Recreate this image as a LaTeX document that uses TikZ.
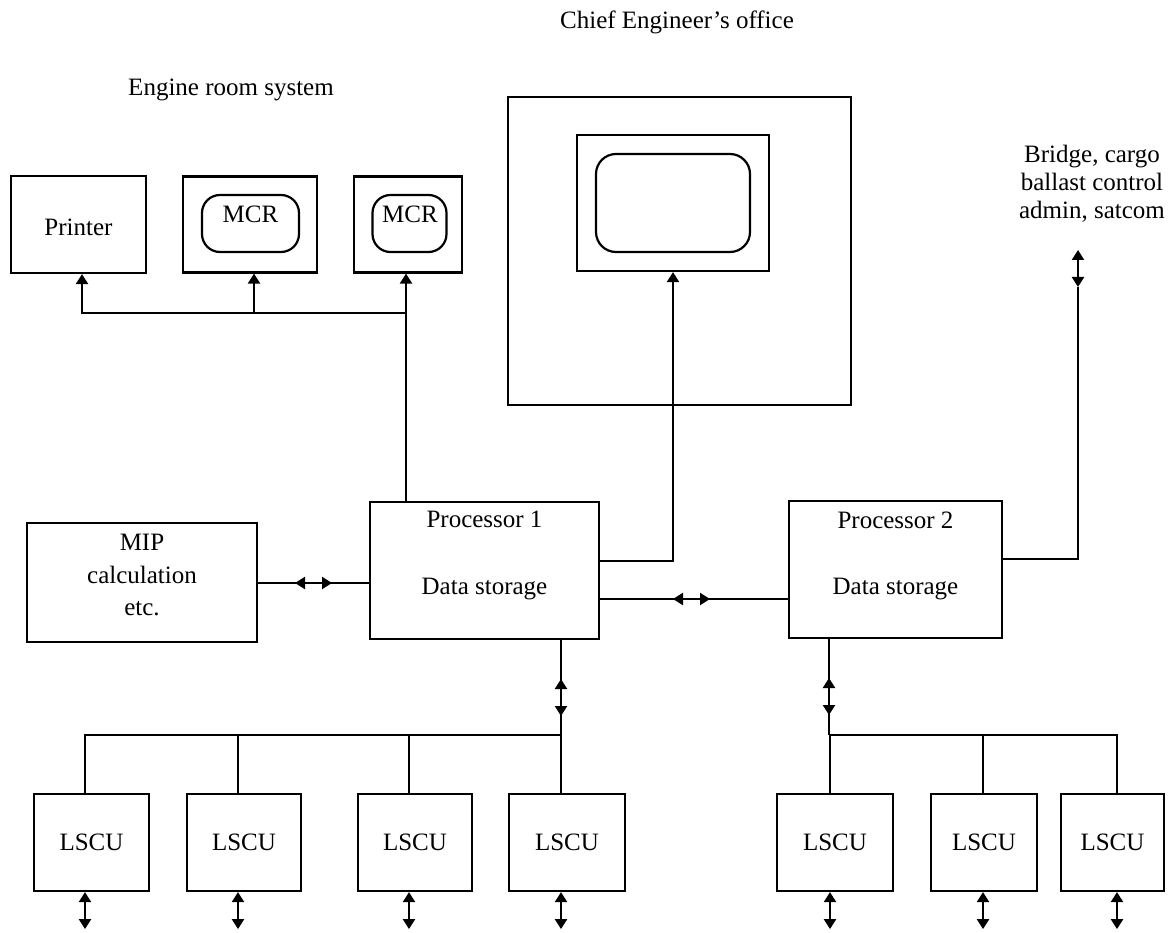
\documentclass[tikz,border=0pt]{standalone}
\usepackage{fontspec}
\setmainfont{Liberation Serif}
\usetikzlibrary{arrows.meta,calc}
\begin{document}
\begin{tikzpicture}[x=1pt,y=-1pt,
  every node/.style={font=\fontsize{25}{28}\selectfont},
  box/.style={draw, line width=2.2pt, inner sep=0pt},
  scr/.style={draw, line width=2.2pt, inner sep=0pt, rounded corners=18pt},
  lbl/.style={inner sep=0pt, align=center},
  wire/.style={line width=2.2pt},
  tip/.style={line width=2.2pt, -{Triangle[width=12pt,length=10pt]}},
  dtip/.style={line width=2.2pt, {Triangle[width=12pt,length=10pt]}-{Triangle[width=12pt,length=10pt]}},
  lscu/.style={box, minimum height=97pt}
]
\fill[white] (0,0) rectangle (1173,933);
\useasboundingbox (0,0) rectangle (1173,933);

% titles
\node[lbl] (chief) at (677,22) {Chief Engineer's office};
\node[lbl] (engroom) at (231,90) {Engine room system};
\node[lbl, font=\fontsize{25}{28}\selectfont] (bridge) at (1092,184) {Bridge, cargo\\ballast control\\admin, satcom};

% engine room
\node[box, minimum width=135pt, minimum height=97pt] (printer) at (78.5,224.5) {};
\node[lbl, anchor=base] (printert) at (78.5,236) {Printer};
\node[box, minimum width=134pt, minimum height=96pt] (mcr1) at (250,224.5) {};
\node[scr, minimum width=97pt, minimum height=57pt] (mcr1s) at (250.5,223.5) {};
\node[lbl, anchor=base] (mcr1t) at (250.5,223) {MCR};
\node[box, minimum width=108pt, minimum height=96pt] (mcr2) at (408,224.5) {};
\node[scr, minimum width=74pt, minimum height=57pt] (mcr2s) at (409.5,223.5) {};
\node[lbl, anchor=base] (mcr2t) at (410,223) {MCR};

% chief engineer's office
\node[box, minimum width=343pt, minimum height=308pt] (office) at (679.5,251) {};
\node[box, minimum width=192pt, minimum height=136pt] (mon) at (673,203) {};
\node[scr, minimum width=154pt, minimum height=98pt, rounded corners=20pt] (mons) at (673,203) {};

% processors
\node[box, minimum width=230pt, minimum height=119pt] (mip) at (142,582.5) {};
\node[lbl, font=\fontsize{25}{32.5}\selectfont] (mipt) at (142,575) {MIP\\calculation\\etc.};
\node[box, minimum width=229pt, minimum height=137pt] (p1) at (484.5,570.5) {};
\node[lbl, anchor=base] (p1a) at (484.5,527) {Processor 1};
\node[lbl, anchor=base] (p1b) at (484.5,594) {Data storage};
\node[box, minimum width=213pt, minimum height=137pt] (p2) at (895.5,569.5) {};
\node[lbl, anchor=base] (p2a) at (895.5,528) {Processor 2};
\node[lbl, anchor=base] (p2b) at (895.5,594) {Data storage};

% LSCUs
\node[lscu, minimum width=115pt] (l1) at (91.5,842.5) {LSCU};
\node[lscu, minimum width=114pt] (l2) at (244,842.5) {LSCU};
\node[lscu, minimum width=114pt] (l3) at (415,842.5) {LSCU};
\node[lscu, minimum width=116pt] (l4) at (567,842.5) {LSCU};
\node[lscu, minimum width=116pt] (l5) at (835,842.5) {LSCU};
\node[lscu, minimum width=106pt] (l6) at (984,842.5) {LSCU};
\node[lscu, minimum width=103pt] (l7) at (1112.5,842.5) {LSCU};

% engine room bus
\coordinate (ej) at (406,313);
\coordinate (m1) at (254,313);
\coordinate (pr) at (82,313);
\draw[wire] (ej |- p1.north) -- (ej);
\draw[tip] (ej) -- (ej |- mcr2.south);
\draw[tip] (m1) -- (m1 |- mcr1.south);
\draw[tip] (ej) -- (pr) -- (pr |- printer.south);

% office link
\draw[tip] ([yshift=9.5pt]p1.east) -| (mon.south);

% MIP link
\draw[wire] (mip.east |- 0,583) -- (p1.west |- 0,583);
\coordinate (ma) at (295,583);
\coordinate (mb) at (332,583);
\draw[dtip] (ma) -- (mb);

% P1 - P2 link
\coordinate (pp) at ([yshift=-28.5pt]p1.east);
\draw[wire] (pp) -- (pp -| p2.west);
\coordinate (pa) at (673,599);
\coordinate (pb) at (710,599);
\draw[dtip] (pa) -- (pb);

% bridge link
\coordinate (brm) at (1078,287);
\coordinate (br) at (1078,250);
\draw[wire] ([yshift=10.5pt]p2.east) -| (brm);
\draw[dtip] (brm) -- (br);

% left LSCU bus
\coordinate (lb) at (561,735);
\draw[wire] (p1.south -| lb) -- (lb);
\coordinate (lba) at (561,679);
\coordinate (lbb) at (561,716);
\draw[dtip] (lba) -- (lbb);
\coordinate (d1) at ($(l1.north)+(-6.5,0)$);
\coordinate (d2) at ($(l2.north)+(-6,0)$);
\coordinate (d3) at ($(l3.north)+(-6,0)$);
\coordinate (d4) at ($(l4.north)+(-6,0)$);
\draw[wire] (lb) -| (d1);
\draw[wire] (d2) -- (d2 |- lb);
\draw[wire] (d3) -- (d3 |- lb);
\draw[wire] (d4) -- (d4 |- lb);

% right LSCU bus
\coordinate (rb) at (829,735);
\draw[wire] (p2.south -| rb) -- (rb);
\coordinate (rba) at (829,678);
\coordinate (rbb) at (829,715);
\draw[dtip] (rba) -- (rbb);
\coordinate (d5) at ($(l5.north)+(-5,0)$);
\coordinate (d6) at ($(l6.north)+(-1,0)$);
\coordinate (d7) at ($(l7.north)+(4.5,0)$);
\draw[wire] (rb) -- (rb -| d7) -- (d7);
\draw[wire] (d5) -- (d5 |- rb);
\draw[wire] (d6) -- (d6 |- rb);

% field arrows under LSCUs
\foreach \i/\dx in {1/-6.5,2/-6,3/-6,4/-6,5/-5,6/-1,7/4.5}{
  \draw[dtip] ($(l\i.south)+(\dx,0)$) -- ++(0,37);
}
\end{tikzpicture}
\end{document}
